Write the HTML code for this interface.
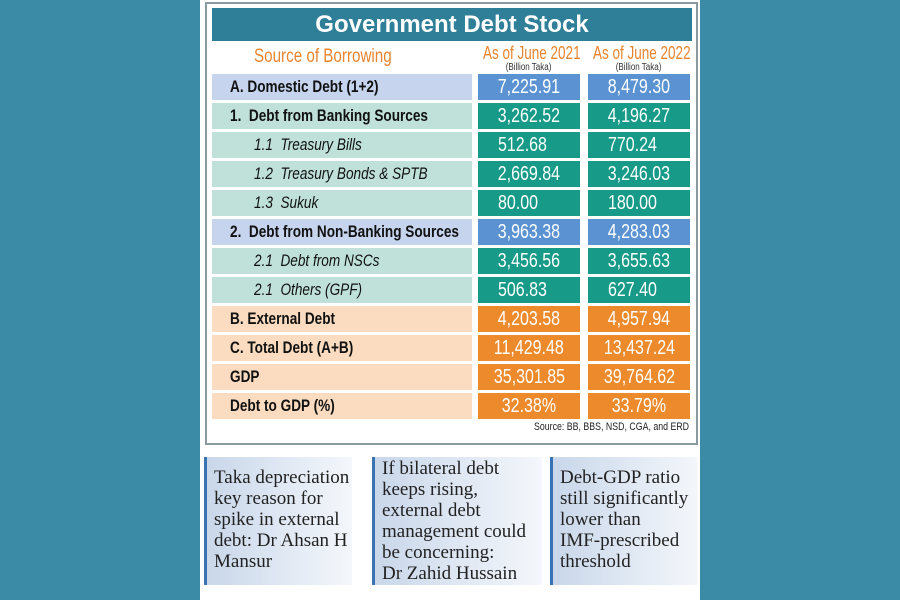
<!DOCTYPE html>
<html><head><meta charset="utf-8"><style>
body{margin:0;width:900px;height:600px;background:#3b8aa6;position:relative;overflow:hidden;font-family:"Liberation Sans",sans-serif}
.panel{position:absolute;left:200px;top:0;width:500px;height:600px;background:#fff}
.box{position:absolute;left:205px;top:2px;width:489px;height:439px;border:2px solid #8a9aa0;background:#fff}
.title{position:absolute;left:212px;top:8px;width:480px;height:33px;background:#2e7f97;color:#fff;font-weight:bold;font-size:24px;text-align:center;line-height:33px}
.n{display:inline-block;transform:scaleX(0.8);transform-origin:left center;white-space:nowrap}
.nc{display:inline-block;transform:scaleX(0.8);transform-origin:center center;white-space:nowrap}
.h{position:absolute;color:#e8842e;font-size:17px;white-space:nowrap}
.hs{position:absolute;color:#333;font-size:10px;text-align:center;width:102px}
.c{position:absolute;height:26px;line-height:26px;font-size:17px;overflow:hidden}
.l{left:212px;color:#111}
.v1{left:478px;width:102px;color:#fff;text-align:center;font-size:20px}
.v2{left:588px;width:102px;color:#fff;text-align:center;font-size:20px}
.b{font-weight:bold}
.i{font-style:italic}
.q{position:absolute;top:457px;height:128px;border-left:3px solid #3b72b4;background:linear-gradient(90deg,#c9d7ea,#f4f7fb);font-family:"Liberation Serif",serif;font-size:19px;line-height:21px;color:#222;padding-left:7px;box-sizing:border-box;white-space:nowrap}
</style></head><body>
<div class="panel"></div>
<div class="box"></div>
<div class="title">Government Debt Stock</div>
<div class="h" style="left:254px;top:46px;font-size:19px"><span class="n">Source of Borrowing</span></div>
<div class="h" style="left:483px;top:43px;font-size:18px"><span class="n" style="transform:scaleX(0.75)">As of June 2021</span></div>
<div class="h" style="left:593px;top:43px;font-size:18px"><span class="n" style="transform:scaleX(0.75)">As of June 2022</span></div>
<div class="hs" style="left:478px;top:62px"><span class="nc">(Billion Taka)</span></div>
<div class="hs" style="left:588px;top:62px"><span class="nc">(Billion Taka)</span></div>

<div class="c l b" style="top:74px;background:#c6d4ed;padding-left:18px;width:242px"><span class="n">A. Domestic Debt (1+2)</span></div>
<div class="c v1" style="top:74px;background:#5b93d2"><span class="nc">7,225.91</span></div><div class="c v2" style="top:74px;background:#5b93d2"><span class="nc">8,479.30</span></div>

<div class="c l b" style="top:103px;background:#bfe1da;padding-left:18px;width:242px"><span class="n">1.&nbsp; Debt from Banking Sources</span></div>
<div class="c v1" style="top:103px;background:#179a87"><span class="nc">3,262.52</span></div><div class="c v2" style="top:103px;background:#179a87"><span class="nc">4,196.27</span></div>

<div class="c l i" style="top:132px;background:#bfe1da;padding-left:42px;width:218px"><span class="n">1.1&nbsp; Treasury Bills</span></div>
<div class="c v1" style="top:132px;background:#179a87;text-align:left;padding-left:20px;width:82px"><span class="n">512.68</span></div><div class="c v2" style="top:132px;background:#179a87;text-align:left;padding-left:20px;width:82px"><span class="n">770.24</span></div>

<div class="c l i" style="top:161px;background:#bfe1da;padding-left:42px;width:218px"><span class="n">1.2&nbsp; Treasury Bonds &amp; SPTB</span></div>
<div class="c v1" style="top:161px;background:#179a87"><span class="nc">2,669.84</span></div><div class="c v2" style="top:161px;background:#179a87"><span class="nc">3,246.03</span></div>

<div class="c l i" style="top:190px;background:#bfe1da;padding-left:42px;width:218px"><span class="n">1.3&nbsp; Sukuk</span></div>
<div class="c v1" style="top:190px;background:#179a87;text-align:left;padding-left:20px;width:82px"><span class="n">80.00</span></div><div class="c v2" style="top:190px;background:#179a87;text-align:left;padding-left:20px;width:82px"><span class="n">180.00</span></div>

<div class="c l b" style="top:219px;background:#c6d4ed;padding-left:18px;width:242px"><span class="n">2.&nbsp; Debt from Non-Banking Sources</span></div>
<div class="c v1" style="top:219px;background:#5b93d2"><span class="nc">3,963.38</span></div><div class="c v2" style="top:219px;background:#5b93d2"><span class="nc">4,283.03</span></div>

<div class="c l i" style="top:248px;background:#bfe1da;padding-left:42px;width:218px"><span class="n">2.1&nbsp; Debt from NSCs</span></div>
<div class="c v1" style="top:248px;background:#179a87"><span class="nc">3,456.56</span></div><div class="c v2" style="top:248px;background:#179a87"><span class="nc">3,655.63</span></div>

<div class="c l i" style="top:277px;background:#bfe1da;padding-left:42px;width:218px"><span class="n">2.1&nbsp; Others (GPF)</span></div>
<div class="c v1" style="top:277px;background:#179a87;text-align:left;padding-left:20px;width:82px"><span class="n">506.83</span></div><div class="c v2" style="top:277px;background:#179a87;text-align:left;padding-left:20px;width:82px"><span class="n">627.40</span></div>

<div class="c l b" style="top:306px;background:#fbdcc0;padding-left:18px;width:242px"><span class="n">B. External Debt</span></div>
<div class="c v1" style="top:306px;background:#ec8a2c"><span class="nc">4,203.58</span></div><div class="c v2" style="top:306px;background:#ec8a2c"><span class="nc">4,957.94</span></div>

<div class="c l b" style="top:335px;background:#fbdcc0;padding-left:18px;width:242px"><span class="n">C. Total Debt (A+B)</span></div>
<div class="c v1" style="top:335px;background:#ec8a2c"><span class="nc">11,429.48</span></div><div class="c v2" style="top:335px;background:#ec8a2c"><span class="nc">13,437.24</span></div>

<div class="c l b" style="top:364px;background:#fbdcc0;padding-left:18px;width:242px"><span class="n">GDP</span></div>
<div class="c v1" style="top:364px;background:#ec8a2c"><span class="nc">35,301.85</span></div><div class="c v2" style="top:364px;background:#ec8a2c"><span class="nc">39,764.62</span></div>

<div class="c l b" style="top:393px;background:#fbdcc0;padding-left:18px;width:242px"><span class="n">Debt to GDP (%)</span></div>
<div class="c v1" style="top:393px;background:#ec8a2c"><span class="nc">32.38%</span></div><div class="c v2" style="top:393px;background:#ec8a2c"><span class="nc">33.79%</span></div>

<div style="position:absolute;left:534px;top:421px;font-size:11px;color:#222;white-space:nowrap"><span class="n">Source: BB, BBS, NSD, CGA, and ERD</span></div>

<div class="q" style="left:204px;width:148px;padding-top:10px">Taka depreciation<br>key reason for<br>spike in external<br>debt: Dr Ahsan H<br>Mansur</div>
<div class="q" style="left:372px;width:170px;padding-top:1px">If bilateral debt<br>keeps rising,<br>external debt<br>management could<br>be concerning:<br>Dr Zahid Hussain</div>
<div class="q" style="left:550px;width:148px;padding-top:10px">Debt-GDP ratio<br>still significantly<br>lower than<br>IMF-prescribed<br>threshold</div>
</body></html>
